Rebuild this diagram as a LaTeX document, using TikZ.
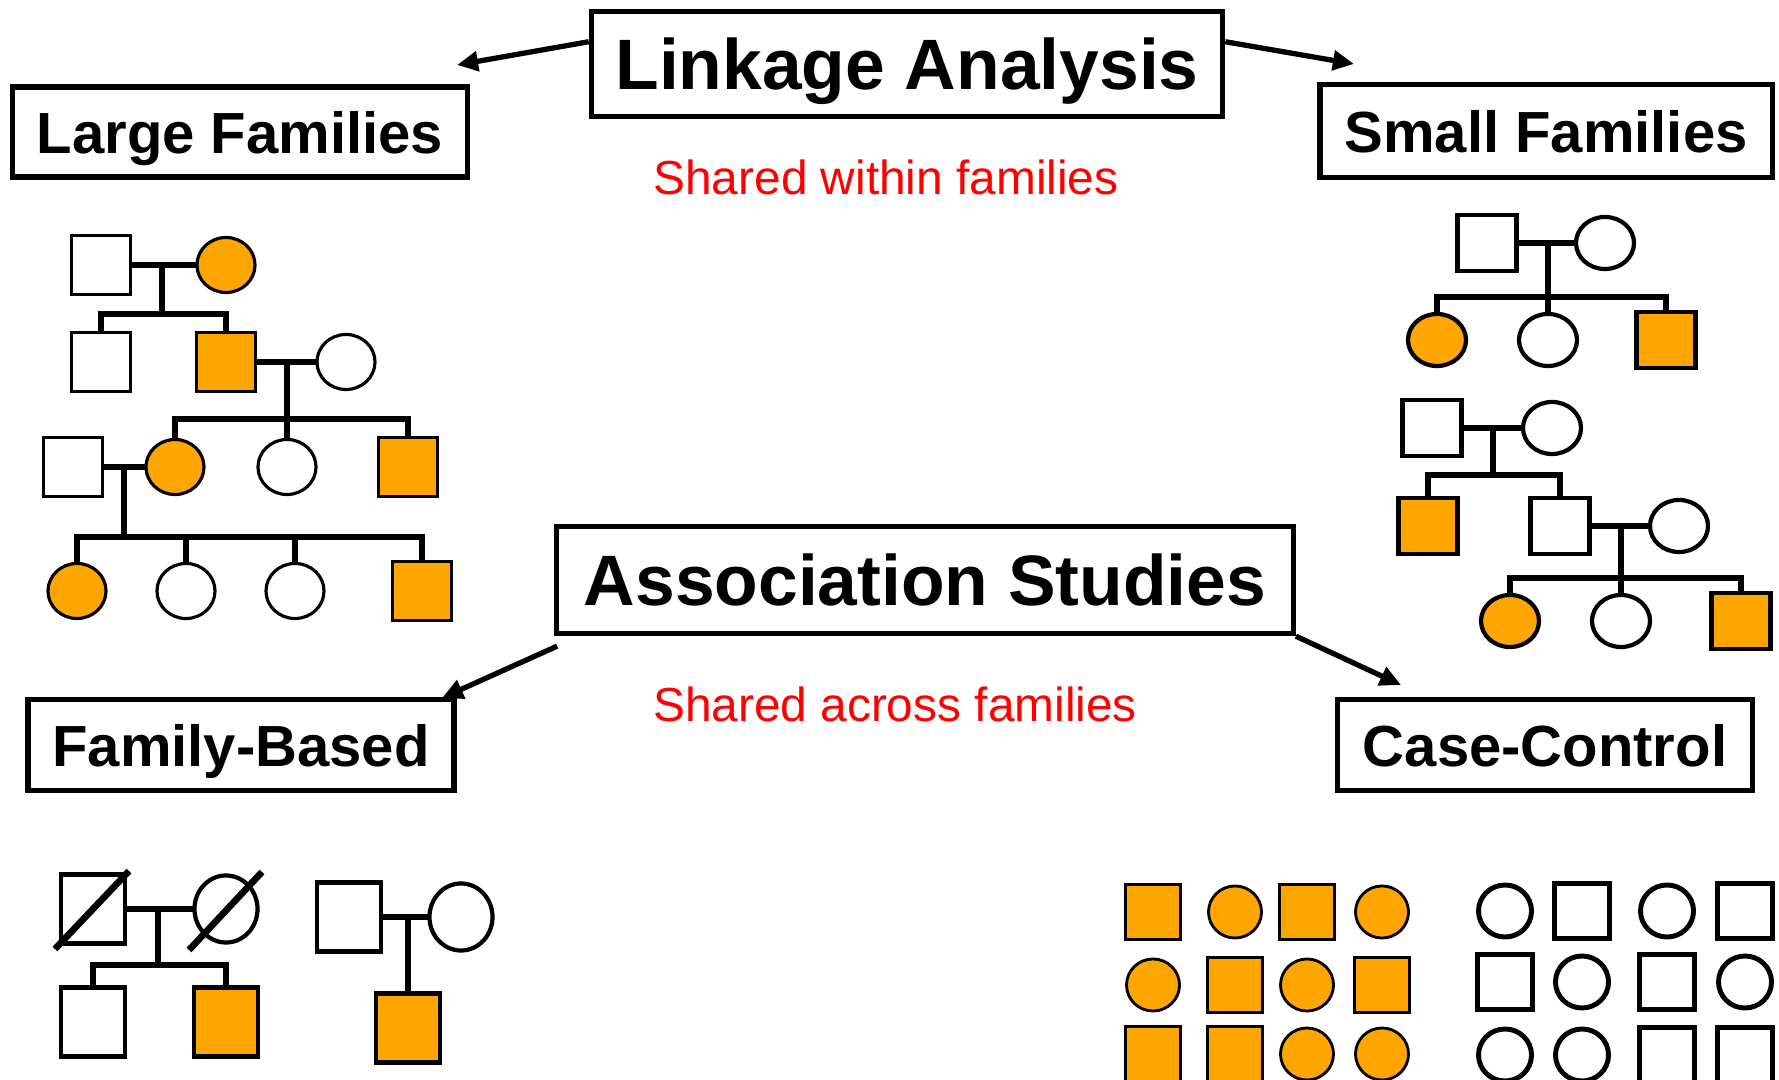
\documentclass[tikz,border=0pt]{standalone}
\usepackage{fontspec}
\setmainfont{Liberation Sans}
\usetikzlibrary{arrows.meta,shapes.geometric}
\definecolor{affected}{HTML}{FFA500}

\newcommand*{\picw}{1779}
\newcommand*{\pich}{1080}

\begin{document}
\begin{tikzpicture}
[
	x=0.01cm,y=-0.01cm,
	mainbox/.style={draw,line width=1.5pt,inner sep=0pt,text depth=0pt,font=\bfseries\fontsize{20.3}{24}\selectfont},
	subbox/.style={draw,line width=1.5pt,inner sep=0pt,text depth=0pt,font=\bfseries\fontsize{16.5}{20}\selectfont},
	note/.style={text=red,anchor=base,inner sep=0pt,font=\fontsize{13.6}{16}\selectfont},
	arr/.style={line width=1.5pt,-{Triangle[length=6pt,width=5.5pt]}},
	ped/.style={draw,fill=white,inner sep=0pt,outer sep=0pt,line width=0.9pt},
	sq/.style={ped,rectangle,minimum width=0.59cm,minimum height=0.59cm},
	ci/.style={ped,ellipse,minimum width=0.58cm,minimum height=0.55cm},
	aff/.style={fill=affected},
	kin/.style={line width=1.6pt},
	slash/.style={line width=1.9pt}
]

	\useasboundingbox (0,0) rectangle (\picw,\pich);

	% headings
	\node[mainbox,minimum width=6.31cm,minimum height=1.05cm] (linkage) at (907,64) {Linkage Analysis};
	\node[subbox,minimum width=4.55cm,minimum height=0.9cm] (large) at (240,132) {Large Families};
	\node[subbox,minimum width=4.52cm,minimum height=0.93cm] (small) at (1546,131) {Small Families};
	\node[note] (within) at (886,195) {Shared within families};

	\node[mainbox,minimum width=7.36cm,minimum height=1.07cm] (assoc) at (925,580) {Association Studies};
	\node[note] (across) at (895,722) {Shared across families};
	\node[subbox,minimum width=4.26cm,minimum height=0.91cm] (fambased) at (241,745) {Family-Based};
	\node[subbox,minimum width=4.15cm,minimum height=0.91cm] (casectrl) at (1545,745) {Case-Control};

	% arrows
	\coordinate (largetip) at (457,65);
	\coordinate (smalltip) at (1354,64);
	\coordinate (fbtip) at (442,698);
	\coordinate (cctip) at (1401,685);
	\draw[arr] (linkage.176) -- (largetip);
	\draw[arr] (linkage.4) -- (smalltip);
	\draw[arr] (assoc.south west) ++(3,10) -- (fbtip);
	\draw[arr] (assoc.south east) -- (cctip);

	% large families
	\node[sq] (l1) at (101,265) {};
	\node[ci,aff] (l2) at (226,265) {};
	\node[sq] (l3) at (101,362) {};
	\node[sq,aff] (l4) at (226,362) {};
	\node[ci] (l5) at (346,362) {};
	\node[sq] (l6) at (73,467) {};
	\node[ci,aff] (l7) at (175,467) {};
	\node[ci] (l8) at (287,467) {};
	\node[sq,aff] (l9) at (408,467) {};
	\node[ci,aff] (l10) at (77,591) {};
	\node[ci] (l11) at (186,591) {};
	\node[ci] (l12) at (295,591) {};
	\node[sq,aff] (l13) at (422,591) {};

	\coordinate (ls1) at (162,314);
	\coordinate (ls2) at (287,419);
	\coordinate (ls3) at (124,537);

	\draw[kin] (l1) -- (l2);
	\draw[kin] (ls1 |- l1) -- (ls1);
	\draw[kin] (l3.north) |- (ls1) -| (l4.north);
	\draw[kin] (l4) -- (l5);
	\draw[kin] (ls2 |- l4) -- (ls2);
	\draw[kin] (l7.north) |- (ls2) -| (l9.north);
	\draw[kin] (l8.north) -- (ls2);
	\draw[kin] (l6) -- (l7);
	\draw[kin] (ls3 |- l6) -- (ls3);
	\draw[kin] (l10.north) |- (ls3) -| (l13.north);
	\draw[kin] (l11.north) -- (l11.north |- ls3);
	\draw[kin] (l12.north) -- (l12.north |- ls3);

	% small families
	\begin{scope}[sq/.append style={minimum height=0.56cm,line width=1.2pt},
		ci/.append style={minimum height=0.52cm,line width=1.2pt}]
	\node[sq] (sa1) at (1487,243) {};
	\node[ci] (sa2) at (1605,243) {};
	\node[ci,aff] (sa3) at (1437,340) {};
	\node[ci] (sa4) at (1548,340) {};
	\node[sq,aff] (sa5) at (1666,340) {};
	\coordinate (sas) at (1548,297);
	\draw[kin] (sa1) -- (sa2);
	\draw[kin] (sas |- sa1) -- (sas);
	\draw[kin] (sa3.north) |- (sas) -| (sa5.north);
	\draw[kin] (sa4.north) -- (sas);

	\node[sq] (sb1) at (1432,428) {};
	\node[ci] (sb2) at (1552,428) {};
	\node[sq,aff] (sb3) at (1428,526) {};
	\node[sq] (sb4) at (1560,526) {};
	\node[ci] (sb5) at (1679,526) {};
	\node[ci,aff] (sb6) at (1510,621) {};
	\node[ci] (sb7) at (1621,621) {};
	\node[sq,aff] (sb8) at (1741,621) {};
	\coordinate (sbs1) at (1493,475);
	\coordinate (sbs2) at (1621,578);
	\draw[kin] (sb1) -- (sb2);
	\draw[kin] (sbs1 |- sb1) -- (sbs1);
	\draw[kin] (sb3.north) |- (sbs1) -| (sb4.north);
	\draw[kin] (sb4) -- (sb5);
	\draw[kin] (sbs2 |- sb4) -- (sbs2);
	\draw[kin] (sb6.north) |- (sbs2) -| (sb8.north);
	\draw[kin] (sb7.north) -- (sbs2);
	\end{scope}

	% family-based trios
	\begin{scope}[sq/.append style={minimum width=0.64cm,minimum height=0.69cm,line width=1.2pt},
		ci/.append style={minimum width=0.63cm,minimum height=0.67cm,line width=1.2pt}]
	\node[sq] (f1) at (93,909) {};
	\node[ci] (f2) at (226,909) {};
	\node[sq] (f3) at (93,1022) {};
	\node[sq,aff] (f4) at (226,1022) {};
	\coordinate (fs) at (158,965);
	\draw[kin] (f1) -- (f2);
	\draw[kin] (fs |- f1) -- (fs);
	\draw[kin] (f3.north) |- (fs) -| (f4.north);
	\draw[slash] ([shift={(-38,40)}]f1.center) -- ([shift={(36,-38)}]f1.center);
	\draw[slash] ([shift={(-37,41)}]f2.center) -- ([shift={(36,-37)}]f2.center);

	\node[sq] (f5) at (349,917) {};
	\node[ci] (f6) at (461,917) {};
	\node[sq,aff] (f7) at (408,1028) {};
	\draw[kin] (f5) -- (f6);
	\draw[kin] (f7.north) -- (f7.north |- f5);
	\end{scope}

	% cases and controls
	\begin{scope}[sq/.append style={minimum width=0.55cm,minimum height=0.55cm,line width=0.8pt},
		ci/.append style={minimum width=0.53cm,minimum height=0.52cm,line width=0.8pt}]
	\foreach \x/\y/\s [count=\n] in {1153/912/sq,1235/912/ci,1307/912/sq,1382/912/ci,
		1153/985/ci,1235/985/sq,1307/985/ci,1382/985/sq,
		1153/1054/sq,1235/1054/sq,1307/1054/ci,1382/1054/ci} {
		\node[\s,aff] (case\n) at (\x,\y) {};
	}
	\foreach \x/\y/\s [count=\n] in {1505/911/ci,1582/911/sq,1667/911/ci,1745/911/sq,
		1505/982/sq,1582/982/ci,1667/982/sq,1745/982/ci,
		1505/1055/ci,1582/1055/ci,1667/1055/sq,1745/1055/sq} {
		\node[\s,line width=1.4pt] (ctrl\n) at (\x,\y) {};
	}
	\end{scope}

\end{tikzpicture}
\end{document}
